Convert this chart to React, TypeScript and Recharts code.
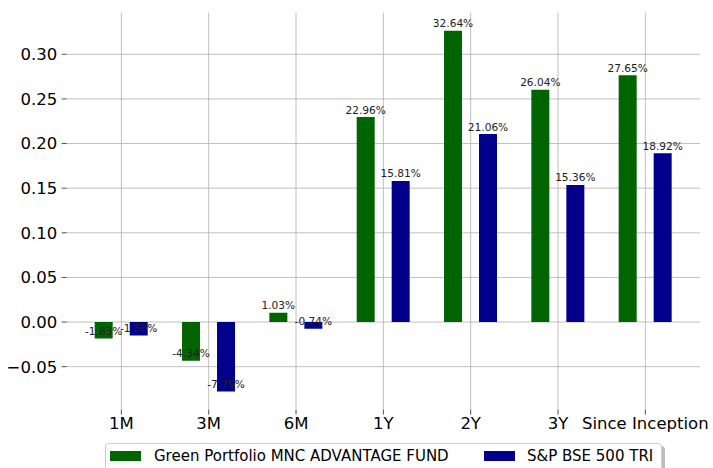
import React from 'react';
import { BarChart, Bar, XAxis, YAxis, CartesianGrid, LabelList } from 'recharts';

const periods = ['1M', '3M', '6M', '1Y', '2Y', '3Y', 'Since Inception'];
const fundReturns = [-0.0183, -0.0434, 0.0103, 0.2296, 0.3264, 0.2604, 0.2765];
const benchReturns = [-0.015, -0.0779, -0.0074, 0.1581, 0.2106, 0.1536, 0.1892];
const yTicks = [-0.05, 0, 0.05, 0.1, 0.15, 0.2, 0.25, 0.3];

const fundName = 'Green Portfolio MNC ADVANTAGE FUND';
const benchName = 'S&P BSE 500 TRI';
const fundColor = '#006400';
const benchColor = '#00008b';

const data = periods.map((p, i) => ({
  period: p,
  fund: fundReturns[i],
  bench: benchReturns[i],
}));

const FONT = '"DejaVu Sans", sans-serif';

const fmtTick = (v: number) => {
  const s = Math.abs(v).toFixed(2);
  return v < -1e-9 ? '\u2212' + s : s;
};

const PctLabel = (props: any) => {
  const { x, y, width, height, value } = props;
  const top = Math.min(y, y + height);
  const bottom = Math.max(y, y + height);
  const vy = value >= 0 ? top : bottom;
  return (
    <text
      x={x + width / 2}
      y={vy - 3.5}
      textAnchor="middle"
      fontSize={10.6}
      fontFamily={FONT}
      fill="#222"
    >
      {(value * 100).toFixed(2) + '%'}
    </text>
  );
};

const LegendBox = () => (
  <div
    style={{
      position: 'absolute',
      left: 105,
      top: 442.5,
      width: 557,
      height: 40,
      border: '1px solid #cccccc',
      borderRadius: 4,
      background: '#fff',
      boxShadow: '3px 3px 0 #bdbdbd',
      boxSizing: 'border-box',
      fontFamily: FONT,
      fontSize: 15,
      color: '#000',
    }}
  >
    <div style={{ position: 'absolute', left: 4, top: 7, width: 31, height: 10, background: fundColor }} />
    <div style={{ position: 'absolute', left: 48, top: 2, lineHeight: '20px', whiteSpace: 'nowrap' }}>{fundName}</div>
    <div style={{ position: 'absolute', left: 378, top: 7, width: 31, height: 10, background: benchColor }} />
    <div style={{ position: 'absolute', left: 421, top: 2, lineHeight: '20px', whiteSpace: 'nowrap' }}>{benchName}</div>
  </div>
);

export default function App() {
  return (
    <div style={{ position: 'absolute', left: 0, top: 0, width: 713, height: 468, overflow: 'hidden', background: '#fff' }}>
      <BarChart
        width={713}
        height={468}
        data={data}
        margin={{ top: 12.7, right: 13, bottom: 28.4, left: 0 }}
        barSize={18}
        barGap={17}
      >
        <CartesianGrid stroke="#b0b0b0" strokeWidth={0.8} syncWithTicks />
        <XAxis
          dataKey="period"
          height={30}
          axisLine={false}
          tickLine={{ stroke: '#222', strokeWidth: 0.8 }}
          tickSize={5}
          tickMargin={2.5}
          padding={{ left: 11, right: 11 }}
          interval={0}
          tick={{ fontSize: 16.5, fontFamily: FONT, fill: '#000' }}
        />
        <YAxis
          width={66.7}
          type="number"
          domain={[-0.0981, 0.3466]}
          ticks={yTicks}
          allowDataOverflow
          axisLine={false}
          tickLine={{ stroke: '#222', strokeWidth: 0.8 }}
          tickSize={5}
          tickMargin={4.5}
          tickFormatter={fmtTick}
          tick={{ fontSize: 16.5, fontFamily: FONT, fill: '#000' }}
        />
        <Bar dataKey="fund" name={fundName} fill={fundColor} isAnimationActive={false}>
          <LabelList dataKey="fund" content={PctLabel} />
        </Bar>
        <Bar dataKey="bench" name={benchName} fill={benchColor} isAnimationActive={false}>
          <LabelList dataKey="bench" content={PctLabel} />
        </Bar>
      </BarChart>
      <LegendBox />
    </div>
  );
}
